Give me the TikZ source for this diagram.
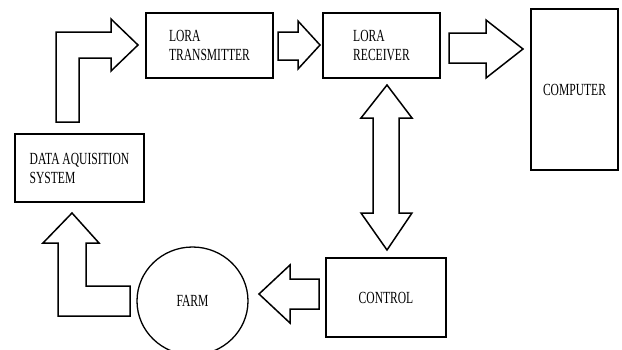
\documentclass[tikz,border=0pt]{standalone}
\usepackage{fontspec}
\setmainfont{Liberation Serif}
\newfontfamily\narrowserif[FakeStretch=0.68]{Liberation Serif}
\usepackage{tikz}
\usetikzlibrary{positioning,calc}
\tikzset{
  block/.style={
    shape = rectangle,
    draw,
    line width = 1.5pt,
    inner sep = 0pt,
    align = left,
    font = \narrowserif\fontsize{17}{19}\selectfont
  },
  farmnode/.style={
    shape = ellipse,
    draw,
    line width = 1.3pt,
    inner sep = 0pt,
    font = \narrowserif\fontsize{17}{19}\selectfont
  },
  blockarrow/.style={
    draw,
    line width = 1.5pt,
    line join = miter,
    fill = white
  }
}
\usetikzlibrary{shapes.geometric}
\begin{document}
\begin{tikzpicture}[x=1pt,y=-1pt]
    \useasboundingbox (0,0) rectangle (622,349);
    % blocks
    \node[block, minimum width=127pt, minimum height=65pt] (tx) at (209.5,45.5) {LORA\\TRANSMITTER};
    \node[block, minimum width=117pt, minimum height=65pt] (rx) at (381.5,45.5) {LORA\\RECEIVER};
    \node[block, minimum width=87pt, minimum height=161pt, align=center] (pc) at (574.5,89.5) {COMPUTER};
    \node[block, minimum width=129pt, minimum height=68pt] (daq) at (79.5,168) {DATA AQUISITION\\SYSTEM};
    \node[block, minimum width=120pt, minimum height=79pt, align=center] (ctrl) at (386,297.5) {CONTROL};
    \node[farmnode, minimum width=111pt, minimum height=108pt] (farm) at (192.5,301) {FARM};
    % block arrows
    \draw[blockarrow] (56,122) -- (56,32) -- (111,32) -- (111,19) -- (138,45)
        -- (111,71) -- (111,58) -- (79,58) -- (79,122) -- cycle;
    \draw[blockarrow] (278,32) -- (298,32) -- (298,21) -- (320,45)
        -- (298,69) -- (298,60) -- (278,60) -- cycle;
    \draw[blockarrow] (449,33) -- (486,33) -- (486,20) -- (523,49)
        -- (486,78) -- (486,63) -- (449,63) -- cycle;
    \draw[blockarrow] (387,85) -- (412,118) -- (399,118) -- (399,213) -- (412,213)
        -- (387,250) -- (361,213) -- (373,213) -- (373,118) -- (361,118) -- cycle;
    \draw[blockarrow] (319,279) -- (290,279) -- (290,265) -- (259,294)
        -- (290,323) -- (290,309) -- (319,309) -- cycle;
    \draw[blockarrow] (72,213) -- (99,243) -- (86,243) -- (86,286) -- (130,286)
        -- (130,316) -- (58,316) -- (58,243) -- (43,243) -- cycle;
\end{tikzpicture}
\end{document}
